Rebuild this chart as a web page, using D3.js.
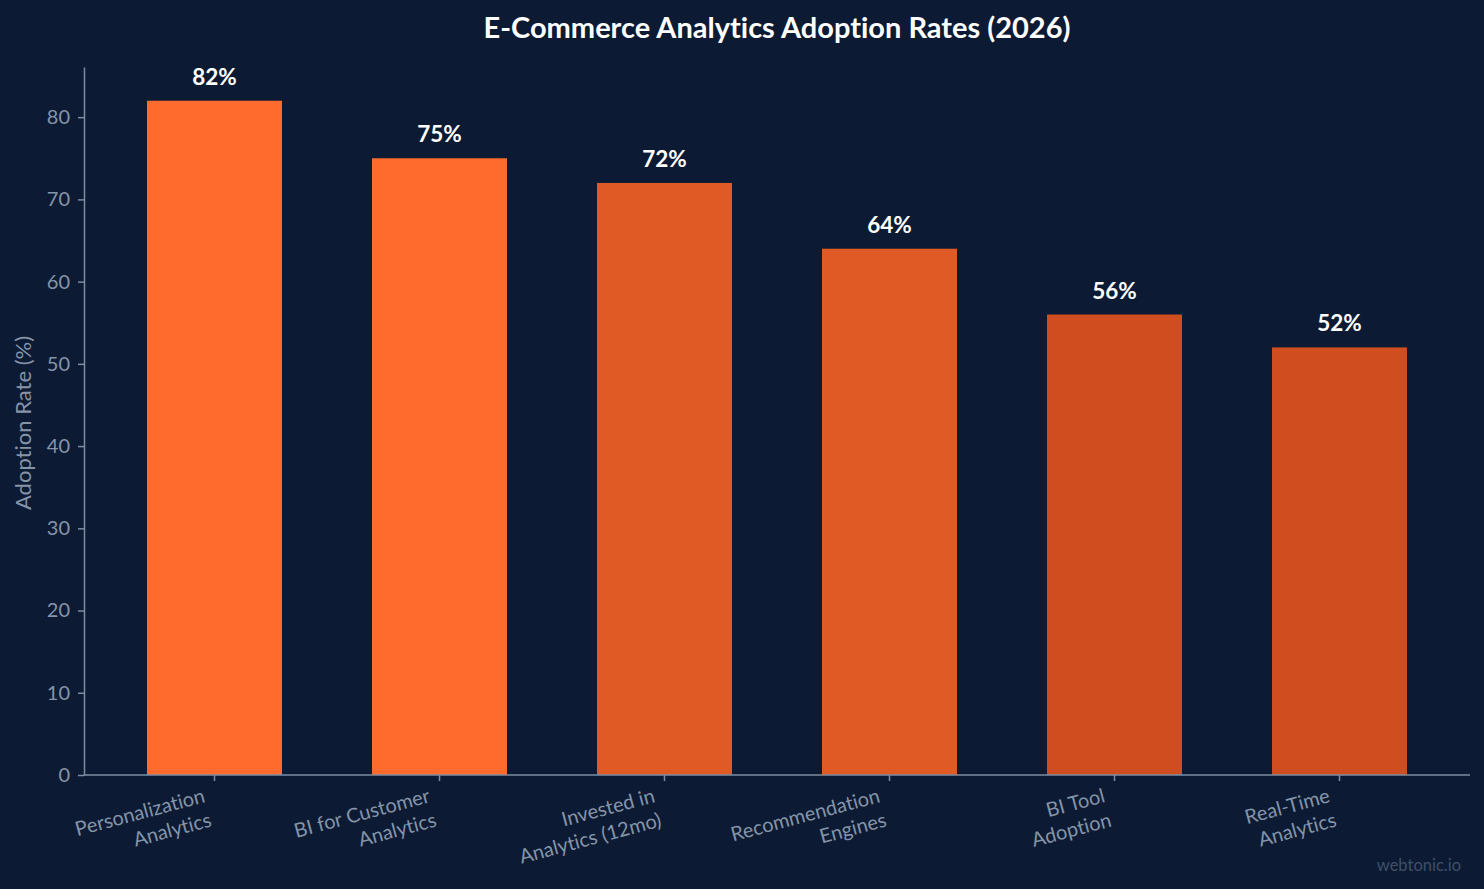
<!DOCTYPE html>
<html>
<head>
<meta charset="utf-8">
<script src="https://cdn.jsdelivr.net/npm/d3@7"></script>
<style>
  html, body { margin: 0; padding: 0; background: #0c1b33; }
  svg { display: block; font-family: Lato, "Open Sans", sans-serif; font-variant-ligatures: none; }
  svg text { font-variant-ligatures: none; font-feature-settings: "liga" 0, "clig" 0; }
</style>
</head>
<body>
<svg id="chart" width="1484" height="889"></svg>
<script>
// data
const categories = [
    'Personalization\nAnalytics',
    'BI for Customer\nAnalytics',
    'Invested in\nAnalytics (12mo)',
    'Recommendation\nEngines',
    'BI Tool\nAdoption',
    'Real-Time\nAnalytics'
];
const adoption = [82, 75, 72, 64, 56, 52];
const barColors = ['#ff6b2c', '#ff6b2c', '#e05a26', '#e05a26', '#cf4d1f', '#cf4d1f'];
const yTicks = [0, 10, 20, 30, 40, 50, 60, 70, 80];

const data = categories.map((c, i) => ({ label: c, value: adoption[i], color: barColors[i] }));

const width = 1484, height = 889;
const margin = { top: 67, right: 14, bottom: 114, left: 84 };

const svg = d3.select('#chart');

const xScale = d3.scaleBand()
    .domain(data.map(d => d.label))
    .range([margin.left, width - margin.right])
    .paddingInner(0.4)
    .paddingOuter(0.28);

const yScale = d3.scaleLinear()
    .domain([0, d3.max(adoption) * 1.05])
    .range([height - margin.bottom, margin.top]);

const axisColor = '#7d8ca1';
const textColor = '#8594a9';

// title
svg.append('text')
    .attr('x', width / 2 + 35)
    .attr('y', 38)
    .attr('text-anchor', 'middle')
    .attr('fill', '#ffffff')
    .attr('font-size', 29)
    .attr('font-weight', 'bold')
    .text('E-Commerce Analytics Adoption Rates (2026)');

// bars
svg.append('g')
    .selectAll('rect')
    .data(data)
    .join('rect')
    .attr('x', d => xScale(d.label))
    .attr('y', d => yScale(d.value))
    .attr('width', xScale.bandwidth())
    .attr('height', d => yScale(0) - yScale(d.value))
    .attr('fill', d => d.color);

// value labels
svg.append('g')
    .selectAll('text')
    .data(data)
    .join('text')
    .attr('x', d => xScale(d.label) + xScale.bandwidth() / 2)
    .attr('y', d => yScale(d.value) - 16)
    .attr('text-anchor', 'middle')
    .attr('fill', '#ffffff')
    .attr('font-size', 22.5)
    .attr('font-weight', 'bold')
    .text(d => d.value + '%');

// y axis
const yAxis = svg.append('g')
    .attr('transform', `translate(${margin.left},0)`)
    .call(d3.axisLeft(yScale).tickValues(yTicks).tickSize(6).tickPadding(8).tickSizeOuter(0));
yAxis.select('.domain').attr('stroke', axisColor).attr('stroke-width', 1.5);
yAxis.selectAll('.tick line').attr('stroke', axisColor).attr('stroke-width', 1.5);
yAxis.selectAll('.tick text')
    .attr('fill', textColor)
    .attr('font-size', 20)
    .attr('font-family', 'Lato, sans-serif');

// x axis
const xAxis = svg.append('g')
    .attr('transform', `translate(0,${height - margin.bottom})`)
    .call(d3.axisBottom(xScale).tickSize(6).tickSizeOuter(0).tickFormat(''));
xAxis.select('.domain').attr('stroke', axisColor).attr('stroke-width', 1.5)
    .attr('d', `M${margin.left},0H${width - margin.right}`);
xAxis.selectAll('.tick line').attr('stroke', axisColor).attr('stroke-width', 1.5);

// rotated two-line category labels
const xLabels = svg.append('g')
    .selectAll('text')
    .data(data)
    .join('text')
    .attr('transform', d =>
        `translate(${xScale(d.label) + xScale.bandwidth() / 2 - 2},${height - margin.bottom + 51}) rotate(-15)`)
    .attr('text-anchor', 'end')
    .attr('fill', textColor)
    .attr('font-size', 20);

xLabels.each(function(d) {
    const lines = d.label.split('\n');
    const t = d3.select(this);
    lines.forEach((line, i) => {
        t.append('tspan')
            .attr('x', 0)
            .attr('y', (i - (lines.length - 1)) * 25)
            .text(line);
    });
});

// y axis title
svg.append('text')
    .attr('transform', `translate(31,423) rotate(-90)`)
    .attr('text-anchor', 'middle')
    .attr('fill', textColor)
    .attr('font-size', 22)
    .text('Adoption Rate (%)');

// watermark
svg.append('text')
    .attr('x', 1461)
    .attr('y', 871)
    .attr('text-anchor', 'end')
    .attr('fill', '#3f4f68')
    .attr('font-size', 16.5)
    .text('webtonic.io');
</script>
</body>
</html>
